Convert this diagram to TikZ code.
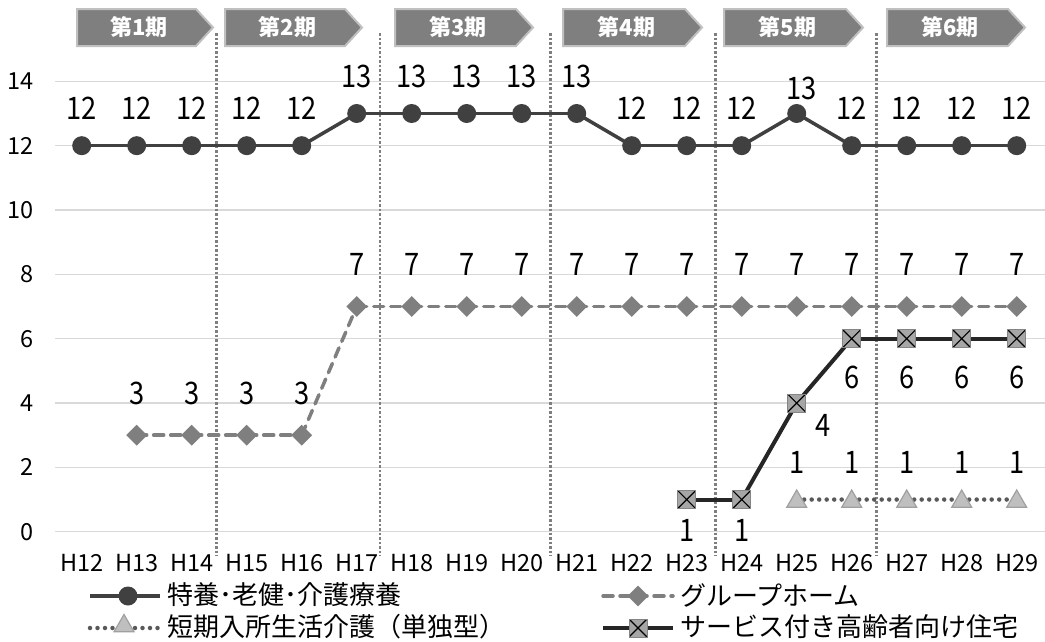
\documentclass[tikz,border=0pt]{standalone}
\usepackage{fontspec}
\setmainfont{Noto Sans CJK JP}
\newfontfamily\numf[FakeStretch=0.88]{Noto Sans CJK JP}
\usetikzlibrary{shapes.geometric}
\definecolor{sa}{HTML}{404040}
\definecolor{sb}{HTML}{7F7F7F}
\definecolor{sc}{HTML}{595959}
\definecolor{scf}{HTML}{BFBFBF}
\definecolor{scb}{HTML}{A0A0A0}
\definecolor{sd}{HTML}{262626}
\definecolor{sdf}{HTML}{A6A6A6}
\definecolor{gridc}{HTML}{D9D9D9}
\definecolor{banf}{HTML}{7F7F7F}
\definecolor{banb}{HTML}{C0C0C0}
\tikzset{
  gridline/.style={draw=gridc, line width=1.5pt},
  divider/.style={draw=sb, line width=2.8pt, dash pattern=on 2.5pt off 2pt},
  banner/.style={fill=banf, draw=banb, line width=2pt},
  bantext/.style={text=white, font=\fontsize{22}{24}\selectfont\bfseries, inner sep=0pt},
  ylab/.style={font=\fontsize{23.5}{25}\selectfont, inner sep=0pt, anchor=east},
  xlab/.style={font=\fontsize{23.5}{25}\selectfont, inner sep=0pt},
  dlab/.style={font=\numf\fontsize{31}{33}\selectfont, inner sep=0pt},
  legtext/.style={font=\fontsize{26}{28}\selectfont, inner sep=0pt, anchor=west},
  lineA/.style={draw=sa, line width=3.5pt},
  lineB/.style={draw=sb, line width=3.5pt, dash pattern=on 10pt off 7pt, line cap=round},
  lineC/.style={draw=sc, line width=4.5pt, dash pattern=on 0pt off 7.5pt, line cap=round},
  lineD/.style={draw=sd, line width=4pt},
  markA/.style={circle, fill=sa, minimum size=19pt, inner sep=0pt},
  markB/.style={diamond, fill=sb, minimum width=21pt, minimum height=21pt, inner sep=0pt},
  markC/.style={regular polygon, regular polygon sides=3, fill=scf, draw=scb, line width=1.2pt, minimum size=23pt, inner sep=0pt},
  markD/.style={rectangle, fill=sdf, draw=sdf!80!black, line width=0.8pt, minimum size=18pt, inner sep=0pt,
    path picture={\draw[black, line width=1.1pt] (path picture bounding box.south west) -- (path picture bounding box.north east)
      (path picture bounding box.north west) -- (path picture bounding box.south east);}},
}
\begin{document}
\begin{tikzpicture}[x=1pt,y=-1pt]
\useasboundingbox (0,0) rectangle (1045,641);
\fill[white] (0,0) rectangle (1045,641);
% grid and y labels
\foreach \v in {0,2,...,14} {
  \coordinate (gl\v) at (55,{531.7-32.17*\v});
  \coordinate (gr\v) at (1045,{531.7-32.17*\v});
  \draw[gridline] (gl\v) -- (gr\v);
  \node[ylab] (yl\v) at (34,{531.7-32.17*\v}) {\v};
}
% x labels
\foreach \t [count=\k from 0] in {12,...,29} {
  \node[xlab] (xl\t) at ({81.7+55*\k},563) {H\t};
}
% period dividers
\foreach \xx [count=\n] in {216.7,380,550.3,715.7,876.7} {
  \coordinate (dt\n) at (\xx,33);
  \coordinate (db\n) at (\xx,556);
  \draw[divider] (dt\n) -- (db\n);
}
% banners
\foreach \xa/\xb/\t in {77/213/1, 225/362/2, 395/533/3, 563/702/4, 724/863/5, 887/1025/6} {
  \draw[banner] (\xa,9) -- ({\xb-17},9) -- (\xb,27.5) -- ({\xb-17},46) -- (\xa,46) -- cycle;
  \node[bantext] (ban\t) at ({(\xa+\xb)/2-6},27.5) {第\t 期};
}
% series A
\foreach \v [count=\k from 0] in {12,12,12,12,12,13,13,13,13,13,12,12,12,13,12,12,12,12} {
  \coordinate (a\k) at ({81.7+55*\k},{531.7-32.17*\v});
}
\foreach \k [evaluate=\k as \j using int(\k+1)] in {0,...,16} { \draw[lineA] (a\k) -- (a\j); }
% series B
\foreach \v [count=\k from 1] in {3,3,3,3,7,7,7,7,7,7,7,7,7,7,7,7,7} {
  \coordinate (b\k) at ({81.7+55*\k},{531.7-32.17*\v});
}
\foreach \k [evaluate=\k as \j using int(\k+1)] in {1,...,16} { \draw[lineB] (b\k) -- (b\j); }
% series C
\foreach \k in {13,...,17} { \coordinate (c\k) at ({81.7+55*\k},{531.7-32.17}); }
\foreach \k [evaluate=\k as \j using int(\k+1)] in {13,...,16} { \draw[lineC] (c\k) -- (c\j); }
% series D
\foreach \v [count=\k from 11] in {1,1,4,6,6,6,6} {
  \coordinate (d\k) at ({81.7+55*\k},{531.7-32.17*\v});
}
\foreach \k [evaluate=\k as \j using int(\k+1)] in {11,...,16} { \draw[lineD] (d\k) -- (d\j); }
% markers
\foreach \k in {0,...,17} { \node[markA] (ma\k) at (a\k) {}; }
\foreach \k in {1,...,17} { \node[markB] (mb\k) at (b\k) {}; }
\foreach \k in {13,...,17} { \node[markC] (mc\k) at ([yshift=-2pt]c\k) {}; }
\foreach \k in {11,...,17} { \node[markD] (md\k) at (d\k) {}; }
% labels A
\foreach \v [count=\k from 0] in {12,12,12,12,12,13,13,13,13,13,12,12,12,13,12,12,12,12} {
  \ifnum\k=13
    \node[dlab] (la\k) at ([xshift=5pt,yshift=25pt]a\k) {\v};
  \else
    \node[dlab] (la\k) at ([yshift=37pt]a\k) {\v};
  \fi
}
% labels B
\foreach \v [count=\k from 1] in {3,3,3,3,7,7,7,7,7,7,7,7,7,7,7,7,7} {
  \node[dlab] (lb\k) at ([yshift=42pt]b\k) {\v};
}
% labels C
\foreach \k in {13,...,17} { \node[dlab] (lc\k) at ([yshift=37pt]c\k) {1}; }
% labels D
\node[dlab] (ld11) at ([yshift=-31pt]d11) {1};
\node[dlab] (ld12) at ([yshift=-31pt]d12) {1};
\node[dlab] (ld13) at ([xshift=26pt,yshift=-22pt]d13) {4};
\foreach \k in {14,...,17} { \node[dlab] (ld\k) at ([yshift=-39pt]d\k) {6}; }
% legend
\coordinate (l1a) at (90,596); \coordinate (l1b) at (160,596);
\draw[lineA] (l1a) -- (l1b);
\node[markA] (lm1) at (128,596) {};
\node[legtext] (lt1) at (167,595) {特養･老健･介護療養};
\coordinate (l2a) at (603,596); \coordinate (l2b) at (673,596);
\draw[lineB] (l2a) -- (l2b);
\node[markB] (lm2) at (638,596) {};
\node[legtext] (lt2) at (680,595) {グループホーム};
\coordinate (l3a) at (90,628); \coordinate (l3b) at (160,628);
\draw[lineC] (l3a) -- (l3b);
\node[markC] (lm3) at (124,626) {};
\node[legtext] (lt3) at (167,627) {短期入所生活介護（単独型）};
\coordinate (l4a) at (603,628); \coordinate (l4b) at (673,628);
\draw[lineD] (l4a) -- (l4b);
\node[markD] (lm4) at (638,628) {};
\node[legtext] (lt4) at (680,627) {サービス付き高齢者向け住宅};
\end{tikzpicture}
\end{document}
